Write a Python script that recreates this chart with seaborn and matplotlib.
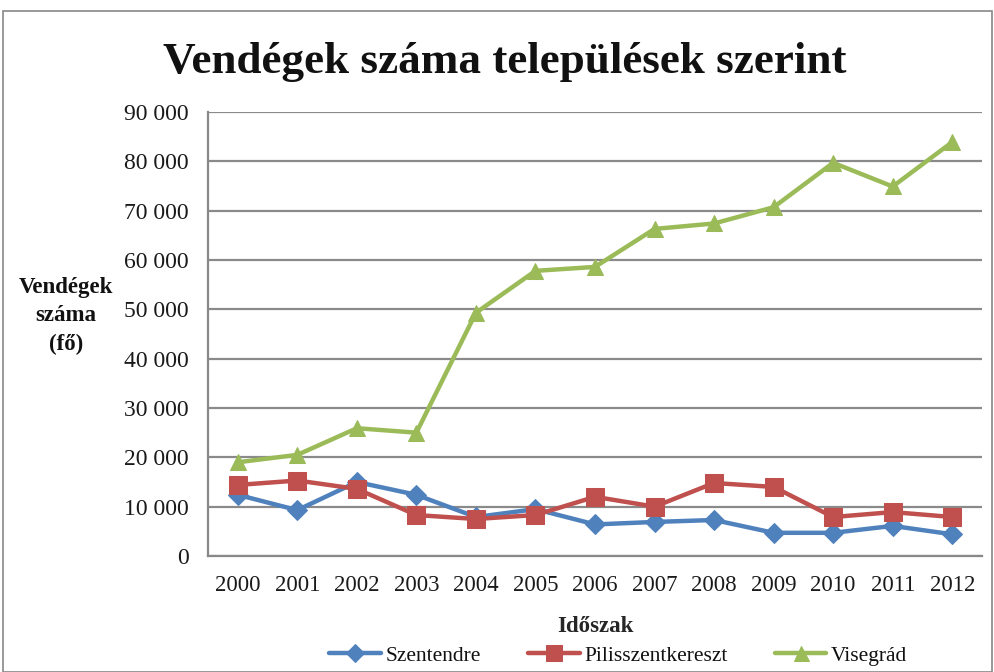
import matplotlib
matplotlib.use("Agg")
import matplotlib.pyplot as plt
import seaborn as sns
import pandas as pd
from matplotlib.patches import Rectangle

years = ["2000", "2001", "2002", "2003", "2004", "2005", "2006",
         "2007", "2008", "2009", "2010", "2011", "2012"]
szentendre = [12400, 9300, 15000, 12400, 7900, 9500, 6400, 6900, 7300, 4700, 4700, 6100, 4400]
pilisszentkereszt = [14400, 15300, 13600, 8300, 7500, 8300, 12000, 10000, 14800, 14000, 7900, 8900, 7900]
visegrad = [19000, 20500, 25900, 25000, 49300, 57800, 58600, 66300, 67400, 70700, 79700, 74900, 83900]
series_names = ["Szentendre", "Pilisszentkereszt", "Visegrád"]
y_ticks = [0, 10000, 20000, 30000, 40000, 50000, 60000, 70000, 80000, 90000]

colors = ["#4F81BD", "#C0504D", "#9BBB59"]
markers = ["D", "s", "^"]
msizes = [10, 13, 12]

sns.set_style("white")
plt.rcParams["font.family"] = ["Liberation Serif", "DejaVu Serif"]
plt.rcParams["text.color"] = "#111111"

fig = plt.figure(figsize=(9.95, 6.72), dpi=100)
ax = fig.add_axes([208/995, 1-556/672, (982-208)/995, (556-112)/672])

df = pd.DataFrame({
    "x": list(range(len(years))) * 3,
    "value": szentendre + pilisszentkereszt + visegrad,
    "series": [series_names[0]] * len(years) + [series_names[1]] * len(years) + [series_names[2]] * len(years),
})

for name, c, m, ms in zip(series_names, colors, markers, msizes):
    sub = df[df["series"] == name]
    sns.lineplot(data=sub, x="x", y="value", ax=ax, color=c, linewidth=3.2,
                 marker=m, markersize=ms, markeredgecolor=c, label=name, zorder=3)

ax.set_xlim(-0.5, len(years) - 0.5)
ax.set_ylim(0, 90000)
ax.set_yticks(y_ticks)
ax.set_yticklabels([f"{v:,}".replace(",", " ") for v in y_ticks], fontsize=17, color="#1a1a1a")
ax.set_xticks(range(len(years)))
ax.set_xticklabels(years, fontsize=16.5, color="#1a1a1a")
ax.set_xticks([i - 0.5 for i in range(len(years) + 1)], minor=True)
ax.tick_params(axis="x", which="major", length=0, pad=14)
ax.tick_params(axis="x", which="minor", length=6, width=1.5, color="#888888", direction="out")
ax.tick_params(axis="y", which="major", length=6, width=1.5, color="#888888", direction="out", pad=8)

ax.grid(axis="y", color="#8a8a8a", linewidth=1.6)
ax.grid(axis="x", visible=False)
for s in ["top", "right"]:
    ax.spines[s].set_visible(False)
for s in ["left", "bottom"]:
    ax.spines[s].set_color("#888888")
    ax.spines[s].set_linewidth(1.6)

ax.set_xlabel("Időszak", fontsize=16.5, fontweight="bold", labelpad=14)
ax.set_ylabel("")
fig.text(66/995, 1-316/672, "Vendégek\nszáma\n(fő)", ha="center", va="center",
         fontsize=16.5, fontweight="bold", linespacing=1.45)

fig.text(505/995, 1-62/672, "Vendégek száma települések szerint", ha="center", va="center",
         fontsize=32.5, fontweight="bold")

ax.legend(loc="center", bbox_to_anchor=(0.53, -0.225), ncol=3, frameon=False,
          fontsize=15.5, handlelength=2.4, columnspacing=2.2, handletextpad=0.2,
          markerscale=0.9)

fig.patches.append(Rectangle((3/995, 0), 989/995, 1-11/672, transform=fig.transFigure,
                             fill=False, edgecolor="#888888", linewidth=1.2))

fig.savefig("out.png", dpi=100)
